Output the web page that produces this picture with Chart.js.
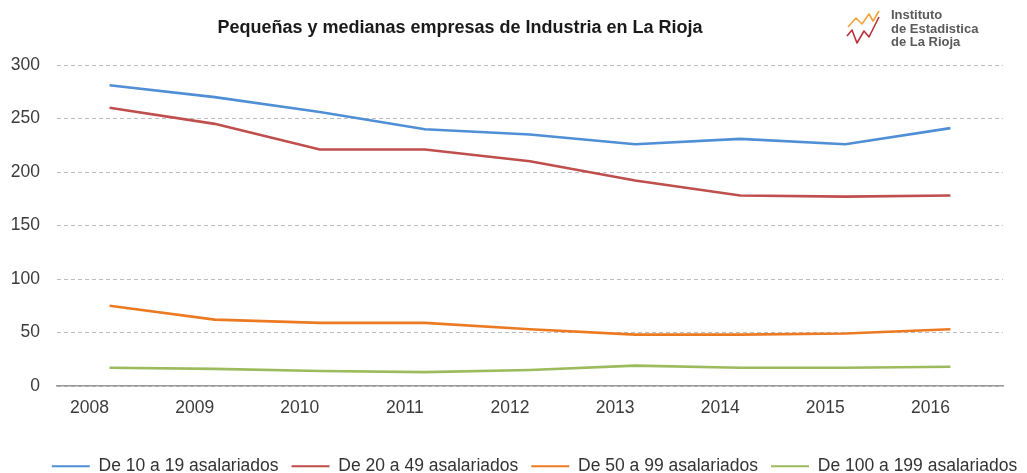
<!DOCTYPE html>
<html>
<head>
<meta charset="utf-8">
<script src="https://cdn.jsdelivr.net/npm/chart.js@4"></script>
<style>
  html, body { margin: 0; padding: 0; background: #fff; overflow: hidden; }
  #wrap { width: 1027px; height: 473px; position: relative; }
</style>
</head>
<body>
<div id="wrap"><canvas id="c" width="1027" height="473"></canvas></div>
<script>
// ---- data ----
const years = ['2008', '2009', '2010', '2011', '2012', '2013', '2014', '2015', '2016'];
const de10a19 = [281, 270, 256, 240, 235, 226, 231, 226, 241];
const de20a49 = [260, 245, 221, 221, 210, 192, 178, 177, 178];
const de50a99 = [75, 62, 59, 59, 53, 48, 48, 49, 53];
const de100a199 = [17, 16, 14, 13, 15, 19, 17, 17, 18];
const seriesNames = ['De 10 a 19 asalariados', 'De 20 a 49 asalariados', 'De 50 a 99 asalariados', 'De 100 a 199 asalariados'];
const yTicks = [0, 50, 100, 150, 200, 250, 300];
const titleText = 'Pequeñas y medianas empresas de Industria en La Rioja';
const logoLines = ['Instituto', 'de Estadistica', 'de La Rioja'];

const colors = ['#4f8fd6', '#bf4f4c', '#ec7a22', '#9cbb5c'];
const FONT = '"Liberation Sans", Arial, Helvetica, sans-serif';

function ds(label, data, color) {
  return {
    label, data,
    borderColor: color, backgroundColor: color,
    borderWidth: 2.6, pointRadius: 0, pointHoverRadius: 0,
    tension: 0, fill: false
  };
}

const titleLogoPlugin = {
  id: 'titleLogo',
  afterDraw(chart) {
    const ctx = chart.ctx;
    ctx.save();
    // title
    ctx.font = 'bold 18px ' + FONT;
    ctx.fillStyle = '#1a1a1a';
    ctx.textAlign = 'center';
    ctx.textBaseline = 'middle';
    ctx.fillText(titleText, 460, 28);
    // logo zigzags
    ctx.lineWidth = 1.6;
    ctx.lineJoin = 'round';
    ctx.strokeStyle = '#f2a33a';
    ctx.beginPath();
    ctx.moveTo(848, 27); ctx.lineTo(856, 18); ctx.lineTo(862, 24);
    ctx.lineTo(869, 14); ctx.lineTo(873, 21); ctx.lineTo(879, 11);
    ctx.stroke();
    ctx.strokeStyle = '#b8323c';
    ctx.beginPath();
    ctx.moveTo(847, 36); ctx.lineTo(852, 30); ctx.lineTo(857, 43);
    ctx.lineTo(864, 31); ctx.lineTo(869, 37); ctx.lineTo(879, 17);
    ctx.stroke();
    // logo text
    ctx.font = 'bold 13px ' + FONT;
    ctx.fillStyle = '#5a5a5a';
    ctx.textAlign = 'left';
    logoLines.forEach((t, i) => ctx.fillText(t, 891, 15.5 + i * 13.7));
    ctx.restore();
  }
};

new Chart(document.getElementById('c'), {
  type: 'line',
  data: {
    labels: years,
    datasets: [
      ds(seriesNames[0], de10a19, colors[0]),
      ds(seriesNames[1], de20a49, colors[1]),
      ds(seriesNames[2], de50a99, colors[2]),
      ds(seriesNames[3], de100a199, colors[3])
    ]
  },
  options: {
    responsive: false,
    animation: false,
    events: [],
    layout: { padding: { left: 8, right: -34, top: 65, bottom: -12 } },
    plugins: {
      title: { display: false },
      tooltip: { enabled: false },
      legend: {
        display: true,
        position: 'bottom',
        labels: {
          boxWidth: 38,
          boxHeight: 2,
          padding: 13,
          color: '#333333',
          font: { family: FONT, size: 17.5 },
          generateLabels(chart) {
            const items = Chart.defaults.plugins.legend.labels.generateLabels(chart);
            items.forEach(it => { it.fillStyle = it.strokeStyle; it.lineWidth = 0; });
            return items;
          }
        }
      }
    },
    scales: {
      x: {
        type: 'category',
        offset: true,
        grid: { display: false, drawTicks: false },
        border: { display: true, color: '#9a9a9a', width: 1.5 },
        ticks: {
          color: '#3c3c3c',
          font: { family: FONT, size: 17.5 },
          padding: 12,
          labelOffset: -20,
          maxRotation: 0,
          autoSkip: false
        },
        afterFit(axis) { axis.height = 58.5; }
      },
      y: {
        min: 0, max: 300,
        afterBuildTicks(axis) { axis.ticks = yTicks.map(v => ({ value: v })); },
        grid: { color: '#bdbdbd', lineWidth: 1, drawTicks: false },
        border: { display: false, dash: [4, 3] },
        ticks: {
          color: '#3c3c3c',
          font: { family: FONT, size: 17.5 },
          padding: 17
        },
        afterFit(axis) { axis.width = 49; }
      },
      yRight: {
        position: 'right',
        display: true,
        grid: { display: false, drawTicks: false },
        border: { display: false },
        ticks: { display: false },
        afterFit(axis) { axis.width = 58; }
      }
    }
  },
  plugins: [titleLogoPlugin]
});
</script>
</body>
</html>
